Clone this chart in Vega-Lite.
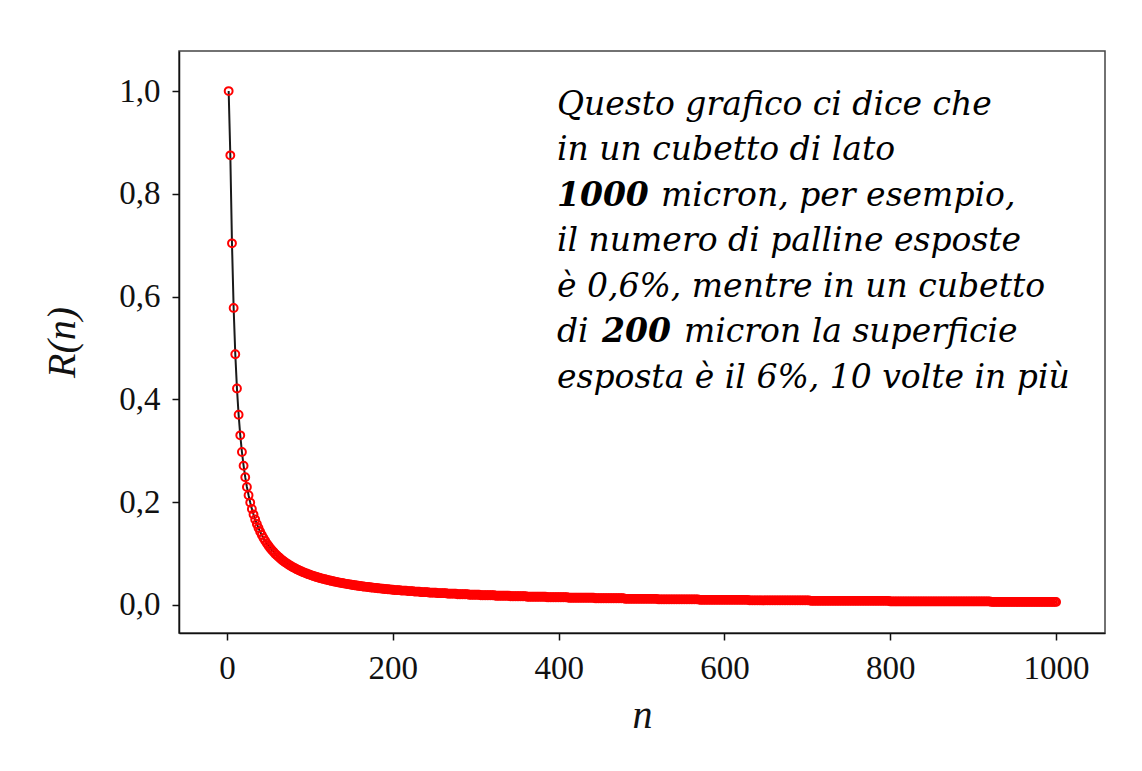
{
"$schema": "https://vega.github.io/schema/vega-lite/v6.json",
"width": 926, "height": 582,
"autosize": {"type": "none"},
"padding": {"left": 179, "top": 51, "right": 37, "bottom": 138},
"background": "white",
"config": {"view": {"stroke": "#444", "strokeWidth": 1.5}, "font": "Liberation Serif"},
"datasets": {
"curve": [
{"n":2,"r":1},{"n":4,"r":0.875},{"n":6,"r":0.7037},{"n":8,"r":0.5781},{"n":10,"r":0.488},{"n":12,"r":0.4213},{"n":14,"r":0.3703},{"n":16,"r":0.3301},{"n":18,"r":0.2977},{"n":20,"r":0.271},
{"n":22,"r":0.2487},{"n":24,"r":0.2297},{"n":26,"r":0.2135},{"n":28,"r":0.1993},{"n":30,"r":0.187},{"n":32,"r":0.176},{"n":34,"r":0.1663},{"n":36,"r":0.1576},{"n":38,"r":0.1497},{"n":40,"r":0.1426},
{"n":42,"r":0.1362},{"n":44,"r":0.1303},{"n":46,"r":0.1248},{"n":48,"r":0.1199},{"n":50,"r":0.1153},{"n":52,"r":0.111},{"n":54,"r":0.107},{"n":56,"r":0.1034},{"n":58,"r":0.0999},{"n":60,"r":0.0967},
{"n":62,"r":0.0937},{"n":64,"r":0.0909},{"n":66,"r":0.0882},{"n":68,"r":0.0857},{"n":70,"r":0.0833},{"n":72,"r":0.081},{"n":74,"r":0.0789},{"n":76,"r":0.0769},{"n":78,"r":0.075},{"n":80,"r":0.0731},
{"n":82,"r":0.0714},{"n":84,"r":0.0697},{"n":86,"r":0.0682},{"n":88,"r":0.0666},{"n":90,"r":0.0652},{"n":92,"r":0.0638},{"n":94,"r":0.0625},{"n":96,"r":0.0612},{"n":98,"r":0.06},{"n":100,"r":0.0588},
{"n":102,"r":0.0577},{"n":104,"r":0.0566},{"n":106,"r":0.0555},{"n":108,"r":0.0545},{"n":110,"r":0.0536},{"n":112,"r":0.0526},{"n":114,"r":0.0517},{"n":116,"r":0.0508},{"n":118,"r":0.05},{"n":120,"r":0.0492},
{"n":122,"r":0.0484},{"n":124,"r":0.0476},{"n":126,"r":0.0469},{"n":128,"r":0.0461},{"n":130,"r":0.0454},{"n":132,"r":0.0448},{"n":134,"r":0.0441},{"n":136,"r":0.0435},{"n":138,"r":0.0428},{"n":140,"r":0.0422},
{"n":142,"r":0.0417},{"n":144,"r":0.0411},{"n":146,"r":0.0405},{"n":148,"r":0.04},{"n":150,"r":0.0395},{"n":152,"r":0.039},{"n":154,"r":0.0385},{"n":156,"r":0.038},{"n":158,"r":0.0375},{"n":160,"r":0.037},
{"n":162,"r":0.0366},{"n":164,"r":0.0361},{"n":166,"r":0.0357},{"n":168,"r":0.0353},{"n":170,"r":0.0349},{"n":172,"r":0.0345},{"n":174,"r":0.0341},{"n":176,"r":0.0337},{"n":178,"r":0.0333},{"n":180,"r":0.033},
{"n":182,"r":0.0326},{"n":184,"r":0.0323},{"n":186,"r":0.0319},{"n":188,"r":0.0316},{"n":190,"r":0.0312},{"n":192,"r":0.0309},{"n":194,"r":0.0306},{"n":196,"r":0.0303},{"n":198,"r":0.03},{"n":200,"r":0.0297},
{"n":202,"r":0.029},{"n":204,"r":0.029},{"n":206,"r":0.029},{"n":208,"r":0.029},
{"n":210,"r":0.028},{"n":212,"r":0.028},{"n":214,"r":0.028},{"n":216,"r":0.028},
{"n":218,"r":0.027},{"n":220,"r":0.027},{"n":222,"r":0.027},{"n":224,"r":0.027},
{"n":226,"r":0.026},{"n":228,"r":0.026},{"n":230,"r":0.026},{"n":232,"r":0.026},
{"n":234,"r":0.025},{"n":236,"r":0.025},{"n":238,"r":0.025},{"n":240,"r":0.025},{"n":242,"r":0.025},
{"n":244,"r":0.024},{"n":246,"r":0.024},{"n":248,"r":0.024},{"n":250,"r":0.024},{"n":252,"r":0.024},
{"n":254,"r":0.023},{"n":256,"r":0.023},{"n":258,"r":0.023},{"n":260,"r":0.023},{"n":262,"r":0.023},{"n":264,"r":0.023},
{"n":266,"r":0.022},{"n":268,"r":0.022},{"n":270,"r":0.022},{"n":272,"r":0.022},{"n":274,"r":0.022},{"n":276,"r":0.022},
{"n":278,"r":0.021},{"n":280,"r":0.021},{"n":282,"r":0.021},{"n":284,"r":0.021},{"n":286,"r":0.021},{"n":288,"r":0.021},{"n":290,"r":0.021},
{"n":292,"r":0.02},{"n":294,"r":0.02},{"n":296,"r":0.02},{"n":298,"r":0.02},{"n":300,"r":0.02},{"n":302,"r":0.02},{"n":304,"r":0.02},
{"n":306,"r":0.019},{"n":308,"r":0.019},{"n":310,"r":0.019},{"n":312,"r":0.019},{"n":314,"r":0.019},{"n":316,"r":0.019},{"n":318,"r":0.019},{"n":320,"r":0.019},{"n":322,"r":0.019},
{"n":324,"r":0.018},{"n":326,"r":0.018},{"n":328,"r":0.018},{"n":330,"r":0.018},{"n":332,"r":0.018},{"n":334,"r":0.018},{"n":336,"r":0.018},{"n":338,"r":0.018},{"n":340,"r":0.018},
{"n":342,"r":0.017},{"n":344,"r":0.017},{"n":346,"r":0.017},{"n":348,"r":0.017},{"n":350,"r":0.017},{"n":352,"r":0.017},{"n":354,"r":0.017},{"n":356,"r":0.017},{"n":358,"r":0.017},{"n":360,"r":0.017},
{"n":362,"r":0.016},{"n":364,"r":0.016},{"n":366,"r":0.016},{"n":368,"r":0.016},{"n":370,"r":0.016},{"n":372,"r":0.016},{"n":374,"r":0.016},{"n":376,"r":0.016},{"n":378,"r":0.016},{"n":380,"r":0.016},{"n":382,"r":0.016},{"n":384,"r":0.016},
{"n":386,"r":0.015},{"n":388,"r":0.015},{"n":390,"r":0.015},{"n":392,"r":0.015},{"n":394,"r":0.015},{"n":396,"r":0.015},{"n":398,"r":0.015},{"n":400,"r":0.015},{"n":402,"r":0.015},{"n":404,"r":0.015},{"n":406,"r":0.015},{"n":408,"r":0.015},{"n":410,"r":0.015},
{"n":412,"r":0.014},{"n":414,"r":0.014},{"n":416,"r":0.014},{"n":418,"r":0.014},{"n":420,"r":0.014},{"n":422,"r":0.014},{"n":424,"r":0.014},{"n":426,"r":0.014},{"n":428,"r":0.014},{"n":430,"r":0.014},{"n":432,"r":0.014},{"n":434,"r":0.014},{"n":436,"r":0.014},{"n":438,"r":0.014},{"n":440,"r":0.014},{"n":442,"r":0.014},
{"n":444,"r":0.013},{"n":446,"r":0.013},{"n":448,"r":0.013},{"n":450,"r":0.013},{"n":452,"r":0.013},{"n":454,"r":0.013},{"n":456,"r":0.013},{"n":458,"r":0.013},{"n":460,"r":0.013},{"n":462,"r":0.013},{"n":464,"r":0.013},{"n":466,"r":0.013},{"n":468,"r":0.013},{"n":470,"r":0.013},{"n":472,"r":0.013},{"n":474,"r":0.013},{"n":476,"r":0.013},{"n":478,"r":0.013},
{"n":480,"r":0.012},{"n":482,"r":0.012},{"n":484,"r":0.012},{"n":486,"r":0.012},{"n":488,"r":0.012},{"n":490,"r":0.012},{"n":492,"r":0.012},{"n":494,"r":0.012},{"n":496,"r":0.012},{"n":498,"r":0.012},{"n":500,"r":0.012},{"n":502,"r":0.012},{"n":504,"r":0.012},{"n":506,"r":0.012},{"n":508,"r":0.012},{"n":510,"r":0.012},{"n":512,"r":0.012},{"n":514,"r":0.012},{"n":516,"r":0.012},{"n":518,"r":0.012},
{"n":520,"r":0.011},{"n":522,"r":0.011},{"n":524,"r":0.011},{"n":526,"r":0.011},{"n":528,"r":0.011},{"n":530,"r":0.011},{"n":532,"r":0.011},{"n":534,"r":0.011},{"n":536,"r":0.011},{"n":538,"r":0.011},{"n":540,"r":0.011},{"n":542,"r":0.011},{"n":544,"r":0.011},{"n":546,"r":0.011},{"n":548,"r":0.011},{"n":550,"r":0.011},{"n":552,"r":0.011},{"n":554,"r":0.011},{"n":556,"r":0.011},{"n":558,"r":0.011},{"n":560,"r":0.011},{"n":562,"r":0.011},{"n":564,"r":0.011},{"n":566,"r":0.011},{"n":568,"r":0.011},
{"n":570,"r":0.01},{"n":572,"r":0.01},{"n":574,"r":0.01},{"n":576,"r":0.01},{"n":578,"r":0.01},{"n":580,"r":0.01},{"n":582,"r":0.01},{"n":584,"r":0.01},{"n":586,"r":0.01},{"n":588,"r":0.01},{"n":590,"r":0.01},{"n":592,"r":0.01},{"n":594,"r":0.01},{"n":596,"r":0.01},{"n":598,"r":0.01},{"n":600,"r":0.01},{"n":602,"r":0.01},{"n":604,"r":0.01},{"n":606,"r":0.01},{"n":608,"r":0.01},{"n":610,"r":0.01},{"n":612,"r":0.01},{"n":614,"r":0.01},{"n":616,"r":0.01},{"n":618,"r":0.01},{"n":620,"r":0.01},{"n":622,"r":0.01},{"n":624,"r":0.01},{"n":626,"r":0.01},{"n":628,"r":0.01},
{"n":630,"r":0.009},{"n":632,"r":0.009},{"n":634,"r":0.009},{"n":636,"r":0.009},{"n":638,"r":0.009},{"n":640,"r":0.009},{"n":642,"r":0.009},{"n":644,"r":0.009},{"n":646,"r":0.009},{"n":648,"r":0.009},{"n":650,"r":0.009},{"n":652,"r":0.009},{"n":654,"r":0.009},{"n":656,"r":0.009},{"n":658,"r":0.009},{"n":660,"r":0.009},{"n":662,"r":0.009},{"n":664,"r":0.009},{"n":666,"r":0.009},{"n":668,"r":0.009},{"n":670,"r":0.009},{"n":672,"r":0.009},{"n":674,"r":0.009},{"n":676,"r":0.009},{"n":678,"r":0.009},{"n":680,"r":0.009},{"n":682,"r":0.009},{"n":684,"r":0.009},{"n":686,"r":0.009},{"n":688,"r":0.009},{"n":690,"r":0.009},{"n":692,"r":0.009},{"n":694,"r":0.009},{"n":696,"r":0.009},{"n":698,"r":0.009},{"n":700,"r":0.009},{"n":702,"r":0.009},
{"n":704,"r":0.008},{"n":706,"r":0.008},{"n":708,"r":0.008},{"n":710,"r":0.008},{"n":712,"r":0.008},{"n":714,"r":0.008},{"n":716,"r":0.008},{"n":718,"r":0.008},{"n":720,"r":0.008},{"n":722,"r":0.008},{"n":724,"r":0.008},{"n":726,"r":0.008},{"n":728,"r":0.008},{"n":730,"r":0.008},{"n":732,"r":0.008},{"n":734,"r":0.008},{"n":736,"r":0.008},{"n":738,"r":0.008},{"n":740,"r":0.008},{"n":742,"r":0.008},{"n":744,"r":0.008},{"n":746,"r":0.008},{"n":748,"r":0.008},{"n":750,"r":0.008},{"n":752,"r":0.008},{"n":754,"r":0.008},{"n":756,"r":0.008},{"n":758,"r":0.008},{"n":760,"r":0.008},{"n":762,"r":0.008},{"n":764,"r":0.008},{"n":766,"r":0.008},{"n":768,"r":0.008},{"n":770,"r":0.008},{"n":772,"r":0.008},{"n":774,"r":0.008},{"n":776,"r":0.008},{"n":778,"r":0.008},{"n":780,"r":0.008},{"n":782,"r":0.008},{"n":784,"r":0.008},{"n":786,"r":0.008},{"n":788,"r":0.008},{"n":790,"r":0.008},{"n":792,"r":0.008},{"n":794,"r":0.008},{"n":796,"r":0.008},{"n":798,"r":0.008},
{"n":800,"r":0.007},{"n":802,"r":0.007},{"n":804,"r":0.007},{"n":806,"r":0.007},{"n":808,"r":0.007},{"n":810,"r":0.007},{"n":812,"r":0.007},{"n":814,"r":0.007},{"n":816,"r":0.007},{"n":818,"r":0.007},{"n":820,"r":0.007},{"n":822,"r":0.007},{"n":824,"r":0.007},{"n":826,"r":0.007},{"n":828,"r":0.007},{"n":830,"r":0.007},{"n":832,"r":0.007},{"n":834,"r":0.007},{"n":836,"r":0.007},{"n":838,"r":0.007},{"n":840,"r":0.007},{"n":842,"r":0.007},{"n":844,"r":0.007},{"n":846,"r":0.007},{"n":848,"r":0.007},{"n":850,"r":0.007},{"n":852,"r":0.007},{"n":854,"r":0.007},{"n":856,"r":0.007},{"n":858,"r":0.007},{"n":860,"r":0.007},{"n":862,"r":0.007},{"n":864,"r":0.007},{"n":866,"r":0.007},{"n":868,"r":0.007},{"n":870,"r":0.007},{"n":872,"r":0.007},{"n":874,"r":0.007},{"n":876,"r":0.007},{"n":878,"r":0.007},{"n":880,"r":0.007},{"n":882,"r":0.007},{"n":884,"r":0.007},{"n":886,"r":0.007},{"n":888,"r":0.007},{"n":890,"r":0.007},{"n":892,"r":0.007},{"n":894,"r":0.007},{"n":896,"r":0.007},{"n":898,"r":0.007},{"n":900,"r":0.007},{"n":902,"r":0.007},{"n":904,"r":0.007},{"n":906,"r":0.007},{"n":908,"r":0.007},{"n":910,"r":0.007},{"n":912,"r":0.007},{"n":914,"r":0.007},{"n":916,"r":0.007},{"n":918,"r":0.007},{"n":920,"r":0.007},
{"n":922,"r":0.006},{"n":924,"r":0.006},{"n":926,"r":0.006},{"n":928,"r":0.006},{"n":930,"r":0.006},{"n":932,"r":0.006},{"n":934,"r":0.006},{"n":936,"r":0.006},{"n":938,"r":0.006},{"n":940,"r":0.006},{"n":942,"r":0.006},{"n":944,"r":0.006},{"n":946,"r":0.006},{"n":948,"r":0.006},{"n":950,"r":0.006},{"n":952,"r":0.006},{"n":954,"r":0.006},{"n":956,"r":0.006},{"n":958,"r":0.006},{"n":960,"r":0.006},{"n":962,"r":0.006},{"n":964,"r":0.006},{"n":966,"r":0.006},{"n":968,"r":0.006},{"n":970,"r":0.006},{"n":972,"r":0.006},{"n":974,"r":0.006},{"n":976,"r":0.006},{"n":978,"r":0.006},{"n":980,"r":0.006},{"n":982,"r":0.006},{"n":984,"r":0.006},{"n":986,"r":0.006},{"n":988,"r":0.006},{"n":990,"r":0.006},{"n":992,"r":0.006},{"n":994,"r":0.006},{"n":996,"r":0.006},{"n":998,"r":0.006},{"n":1000,"r":0.006}
],
"l1": [{"t": "Questo grafico ci dice che"}],
"l2": [{"t": "in un cubetto di lato"}],
"l3b": [{"t": "1000"}],
"l3": [{"t": "micron, per esempio,"}],
"l4": [{"t": "il numero di palline esposte"}],
"l5": [{"t": "è 0,6%, mentre in un cubetto"}],
"l6a": [{"t": "di"}],
"l6b": [{"t": "200"}],
"l6": [{"t": "micron la superficie"}],
"l7": [{"t": "esposta è il 6%, 10 volte in più"}]
},
"layer": [
  {"data": {"name": "curve"},
   "mark": {"type": "line", "color": "#1a1a1a", "strokeWidth": 2},
   "encoding": {
  "x": {"field": "n", "type": "quantitative",
    "scale": {"domain": [-57.9, 1059], "nice": false, "zero": false},
    "axis": {"values": [0, 200, 400, 600, 800, 1000], "format": "d", "title": "n",
      "grid": false, "domainColor": "#111", "domainWidth": 1.5, "tickColor": "#111", "tickWidth": 1.5, "tickSize": 7,
      "labelFont": "Liberation Serif", "labelFontSize": 33, "labelColor": "#111", "labelPadding": 12,
      "titleFont": "Liberation Serif", "titleFontStyle": "italic", "titleFontWeight": "normal", "titleFontSize": 40, "titleColor": "#111", "titlePadding": 10}},
  "y": {"field": "r", "type": "quantitative",
    "scale": {"domain": [-0.0545, 1.078], "nice": false, "zero": false},
    "axis": {"values": [0, 0.2, 0.4, 0.6, 0.8, 1.0], "labelExpr": "replace(format(datum.value, '.1f'), '.', ',')", "title": "R(n)",
      "grid": false, "domainColor": "#111", "domainWidth": 1.5, "tickColor": "#111", "tickWidth": 1.5, "tickSize": 7,
      "labelFont": "Liberation Serif", "labelFontSize": 33, "labelColor": "#111", "labelPadding": 12,
      "titleFont": "Liberation Serif", "titleFontStyle": "italic", "titleFontWeight": "normal", "titleFontSize": 40, "titleColor": "#111", "titlePadding": 36}}
   }},
  {"data": {"name": "curve"},
   "mark": {"type": "point", "shape": "circle", "filled": false, "color": "#ff0000", "strokeWidth": 2, "size": 62, "opacity": 1},
   "encoding": {"x": {"field": "n", "type": "quantitative"}, "y": {"field": "r", "type": "quantitative"}}},
  {"data": {"name": "l1"},
   "mark": {"type": "text", "font": "DejaVu Serif", "fontStyle": "italic", "fontSize": 33, "align": "left", "baseline": "alphabetic", "color": "#000"},
   "encoding": {"text": {"field": "t"}, "x": {"datum": 398}, "y": {"datum": 0.9544}}},
  {"data": {"name": "l2"},
   "mark": {"type": "text", "font": "DejaVu Serif", "fontStyle": "italic", "fontSize": 33, "align": "left", "baseline": "alphabetic", "color": "#000"},
   "encoding": {"text": {"field": "t"}, "x": {"datum": 398}, "y": {"datum": 0.8657}}},
  {"data": {"name": "l3b"},
   "mark": {"type": "text", "font": "DejaVu Serif", "fontStyle": "italic", "fontWeight": "bold", "fontSize": 33, "align": "left", "baseline": "alphabetic", "color": "#000"},
   "encoding": {"text": {"field": "t"}, "x": {"datum": 398}, "y": {"datum": 0.777}}},
  {"data": {"name": "l3"},
   "mark": {"type": "text", "dx": 104, "font": "DejaVu Serif", "fontStyle": "italic", "fontSize": 33, "align": "left", "baseline": "alphabetic", "color": "#000"},
   "encoding": {"text": {"field": "t"}, "x": {"datum": 398}, "y": {"datum": 0.777}}},
  {"data": {"name": "l4"},
   "mark": {"type": "text", "font": "DejaVu Serif", "fontStyle": "italic", "fontSize": 33, "align": "left", "baseline": "alphabetic", "color": "#000"},
   "encoding": {"text": {"field": "t"}, "x": {"datum": 398}, "y": {"datum": 0.6882}}},
  {"data": {"name": "l5"},
   "mark": {"type": "text", "font": "DejaVu Serif", "fontStyle": "italic", "fontSize": 33, "align": "left", "baseline": "alphabetic", "color": "#000"},
   "encoding": {"text": {"field": "t"}, "x": {"datum": 398}, "y": {"datum": 0.5995}}},
  {"data": {"name": "l6a"},
   "mark": {"type": "text", "font": "DejaVu Serif", "fontStyle": "italic", "fontSize": 33, "align": "left", "baseline": "alphabetic", "color": "#000"},
   "encoding": {"text": {"field": "t"}, "x": {"datum": 398}, "y": {"datum": 0.5108}}},
  {"data": {"name": "l6b"},
   "mark": {"type": "text", "dx": 45, "font": "DejaVu Serif", "fontStyle": "italic", "fontWeight": "bold", "fontSize": 33, "align": "left", "baseline": "alphabetic", "color": "#000"},
   "encoding": {"text": {"field": "t"}, "x": {"datum": 398}, "y": {"datum": 0.5108}}},
  {"data": {"name": "l6"},
   "mark": {"type": "text", "dx": 127, "font": "DejaVu Serif", "fontStyle": "italic", "fontSize": 33, "align": "left", "baseline": "alphabetic", "color": "#000"},
   "encoding": {"text": {"field": "t"}, "x": {"datum": 398}, "y": {"datum": 0.5108}}},
  {"data": {"name": "l7"},
   "mark": {"type": "text", "font": "DejaVu Serif", "fontStyle": "italic", "fontSize": 33, "align": "left", "baseline": "alphabetic", "color": "#000"},
   "encoding": {"text": {"field": "t"}, "x": {"datum": 398}, "y": {"datum": 0.422}}}
]
}
